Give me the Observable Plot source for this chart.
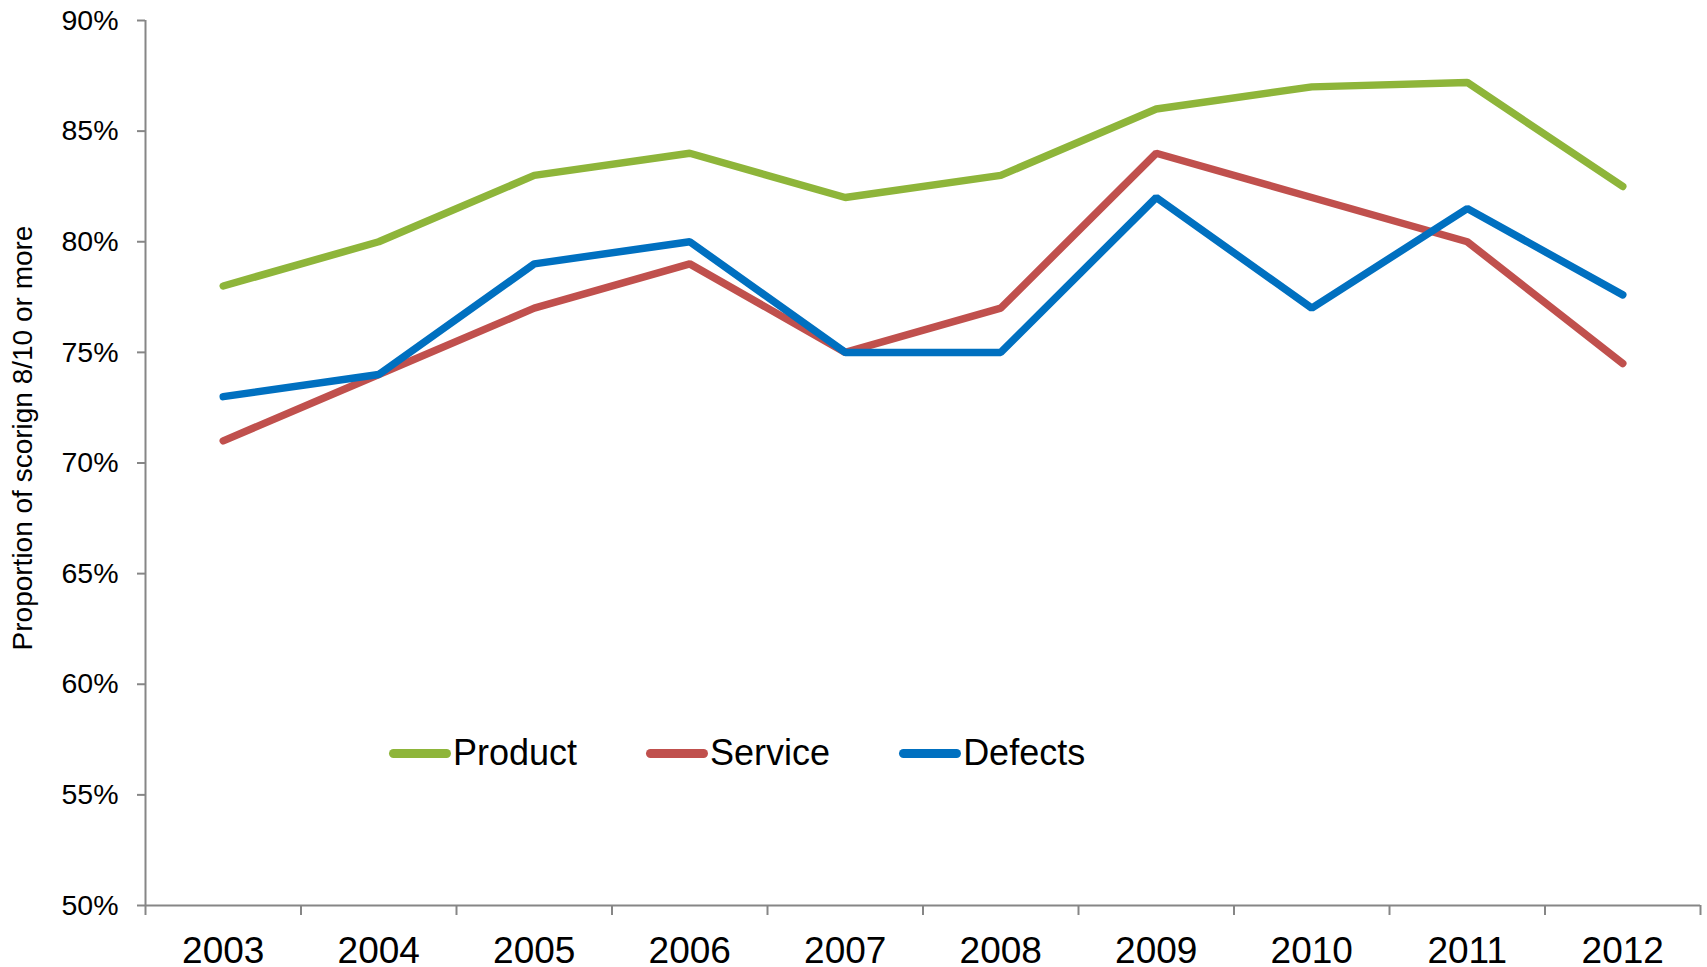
<!DOCTYPE html>
<html>
<head>
<meta charset="utf-8">
<script src="https://cdn.jsdelivr.net/npm/d3@7"></script>
<script src="https://cdn.jsdelivr.net/npm/@observablehq/plot@0.6"></script>
<style>
  html, body { margin: 0; padding: 0; background: #fff; }
  #wrap { position: relative; width: 1707px; height: 967px; font-family: "Liberation Sans", Arial, sans-serif; }
  #legend { position: absolute; left: 389px; top: 735px; height: 36px; display: flex; align-items: center; font-size: 36px; line-height: 36px; color: #000; }
  .item { display: flex; align-items: center; margin-right: 69px; }
  .sw { width: 62px; height: 9px; border-radius: 5px; margin-right: 2px; }
</style>
</head>
<body>
<div id="wrap"></div>
<script>
const years = [2003, 2004, 2005, 2006, 2007, 2008, 2009, 2010, 2011, 2012];
const seriesNames = ["Product", "Service", "Defects"];
const product = [78, 80, 83, 84, 82, 83, 86, 87, 87.2, 82.5];
const service = [71, 74, 77, 79, 75, 77, 84, 82, 80, 74.5];
const defects = [73, 74, 79, 80, 75, 75, 82, 77, 81.5, 77.6];
const colors = ["#8EB53A", "#C0504D", "#0070C0"];
const yTicks = [0.5, 0.55, 0.6, 0.65, 0.7, 0.75, 0.8, 0.85, 0.9];
const yTitle = "Proportion of scorign 8/10 or more";

const seriesValues = [product, service, defects];
const rows = [];
seriesNames.forEach((name, si) => {
  years.forEach((yr, i) => rows.push({ year: yr, value: seriesValues[si][i] / 100, series: name }));
});
const edges = years.map(y => y - 0.5).concat([years[years.length - 1] + 0.5]);
const axisGray = "#868686";

const chart = Plot.plot({
  width: 1707,
  height: 967,
  marginLeft: 145,
  marginTop: 20,
  marginRight: 7,
  marginBottom: 62,
  style: { fontFamily: "'Liberation Sans', Arial, sans-serif", background: "white", color: "black" },
  x: { type: "linear", domain: [edges[0], edges[edges.length - 1]] },
  y: { domain: [0.5, 0.9] },
  color: { domain: seriesNames, range: colors },
  marks: [
    Plot.axisY({ ticks: yTicks, tickFormat: d => Math.round(d * 100) + "%", tickSize: 8, tickPadding: 19, fontSize: 28.5, stroke: axisGray, strokeWidth: 2, label: null }),
    Plot.axisX({ ticks: edges, tickFormat: () => "", tickSize: 10, stroke: axisGray, strokeWidth: 2, label: null }),
    Plot.axisX({ ticks: years, tickFormat: d => String(d), tickSize: 0, tickPadding: 31, fontSize: 37, label: null }),
    Plot.ruleY([0.5], { stroke: axisGray, strokeWidth: 2 }),
    Plot.ruleX([edges[0]], { stroke: axisGray, strokeWidth: 2 }),
    Plot.line(rows, { x: "year", y: "value", z: "series", stroke: "series", strokeWidth: 7.5, strokeLinecap: "round", strokeLinejoin: "miter" }),
    Plot.text([yTitle], { frameAnchor: "left", textAnchor: "middle", rotate: -90, dx: -122, dy: -25, fontSize: 28, fill: "black" })
  ]
});

const wrap = document.getElementById("wrap");
wrap.appendChild(chart);
const legend = document.createElement("div");
legend.id = "legend";
seriesNames.forEach((name, i) => {
  const item = document.createElement("div");
  item.className = "item";
  const sw = document.createElement("span");
  sw.className = "sw";
  sw.style.background = colors[i];
  const t = document.createElement("span");
  t.textContent = name;
  item.appendChild(sw);
  item.appendChild(t);
  legend.appendChild(item);
});
wrap.appendChild(legend);
</script>
</body>
</html>
